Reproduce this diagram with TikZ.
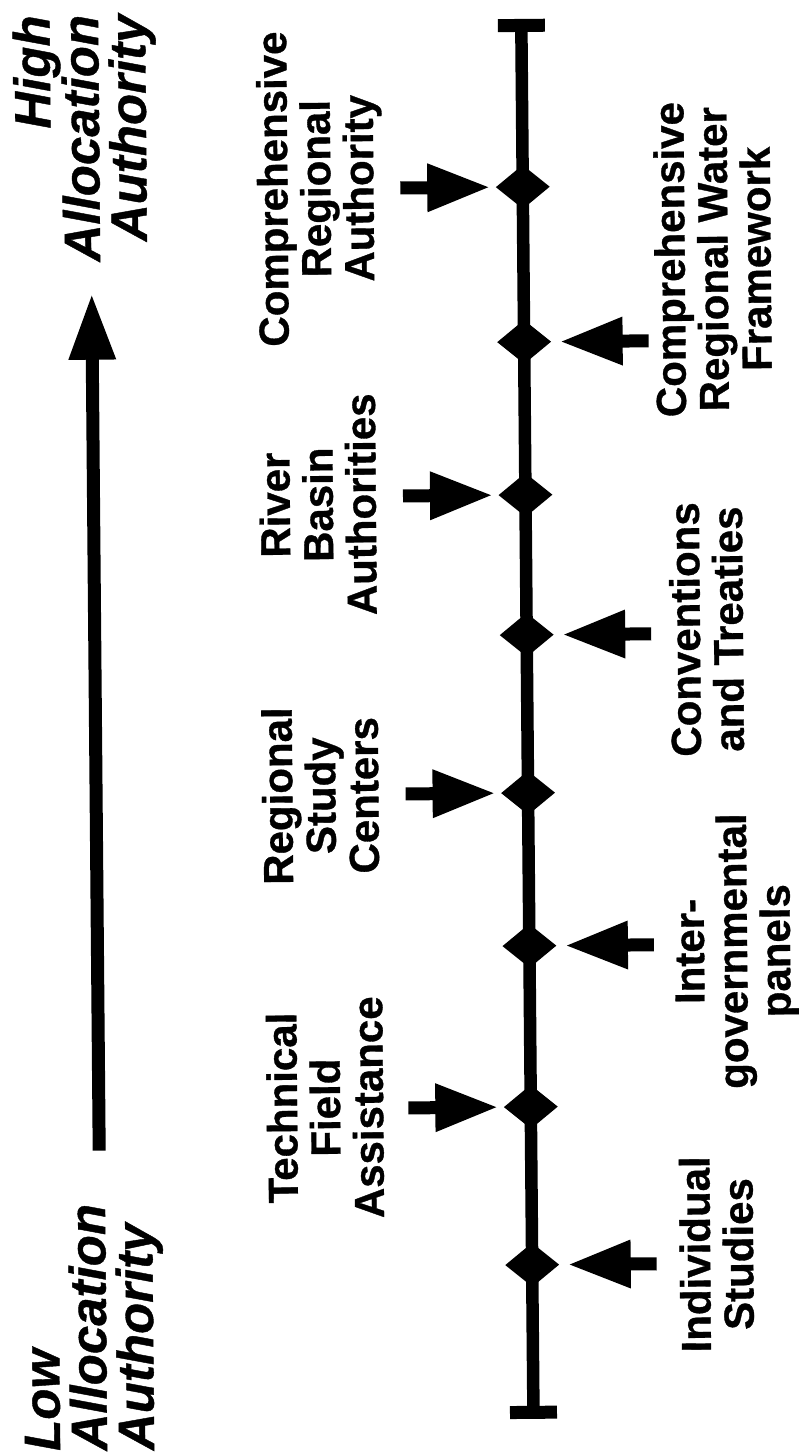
\documentclass[tikz,border=0pt]{standalone}
\usepackage{fontspec}
\setmainfont{Liberation Sans}[BoldFeatures={FakeBold=0.8}, BoldItalicFeatures={FakeBold=0.8}]
\usetikzlibrary{shapes.geometric}
\tikzset{
  rpointer/.pic={\fill (0,-6.5) -- (27,-6.5) -- (27,-24.5) -- (88,0) -- (27,24.5) -- (27,6.5) -- (0,6.5) -- cycle;},
  lpointer/.pic={\fill (0,-6.5) -- (-26,-6.5) -- (-26,-24.5) -- (-87,0) -- (-26,24.5) -- (-26,6.5) -- (0,6.5) -- cycle;},
}
\begin{document}
\begin{tikzpicture}[x=1pt,y=1pt,
  lab/.style={rotate=90, align=center, inner sep=0pt, font=\fontsize{42}{43}\selectfont\bfseries},
  endlab/.style={rotate=90, inner sep=0pt, font=\fontsize{51}{47}\selectfont\bfseries\itshape},
  gem/.style={diamond, fill=black, minimum width=54pt, minimum height=44pt, inner sep=0pt},
  capbar/.style={rectangle, fill=black, minimum width=47pt, minimum height=13pt, inner sep=0pt},
  spine/.style={line width=12.5pt},
]
\fill[white] (0,0) rectangle (799,-1453);
\useasboundingbox (0,0) rectangle (799,-1453);
\begin{scope}[rotate around={0.5:(400,-727)}, transform shape]
  % end labels
  \node[endlab, align=right, anchor=north east] (high) at (18.5,-12) {High\\Allocation\\Authority};
  \node[endlab, align=left, anchor=north west] (low) at (18.5,-1448) {Low\\Allocation\\Authority};
  % big arrow
  \fill (89,-1148) -- (89,-357) -- (71.5,-357) -- (95.5,-293) -- (119.5,-357) -- (102,-357) -- (102,-1148) -- cycle;
  % spine
  \node[capbar] (topcap) at (527.5,-26.5) {};
  \node[capbar] (botcap) at (527.5,-1413.5) {};
  \draw[spine] (topcap.center) -- (botcap.center);
  % diamonds
  \node[gem] (d1) at (527.5,-188) {};
  \node[gem] (d2) at (527.5,-343) {};
  \node[gem] (d3) at (527.5,-496) {};
  \node[gem] (d4) at (527.5,-636) {};
  \node[gem] (d5) at (527.5,-794) {};
  \node[gem] (d6) at (527.5,-947) {};
  \node[gem] (d7) at (527.5,-1108) {};
  \node[gem] (d8) at (527.5,-1266) {};
  % pointers
  \pic at (405,-188) {rpointer};
  \pic at (405,-496) {rpointer};
  \pic at (405,-794) {rpointer};
  \pic at (405,-1108) {rpointer};
  \pic at (652,-343) {lpointer};
  \pic at (652,-636) {lpointer};
  \pic at (652,-947) {lpointer};
  \pic at (652,-1266) {lpointer};
  % upper labels
  \node[lab] (l1) at (324.25,-188) {Comprehensive\\Regional\\Authority};
  \node[lab] (l3) at (319.75,-504) {River\\Basin\\Authorities};
  \node[lab] (l5) at (319.75,-795) {Regional\\Study\\Centers};
  \node[lab] (l7) at (321.75,-1107) {Technical\\Field\\Assistance};
  % lower labels
  \node[lab] (l2) at (716.75,-262) {Comprehensive\\Regional Water\\Framework};
  \node[lab] (l4) at (707.25,-632) {Conventions\\and Treaties};
  \node[lab] (l6) at (735,-954) {Inter-\\governmental\\panels};
  \node[lab] (l8) at (712,-1257) {Individual\\Studies};
\end{scope}
\end{tikzpicture}
\end{document}
